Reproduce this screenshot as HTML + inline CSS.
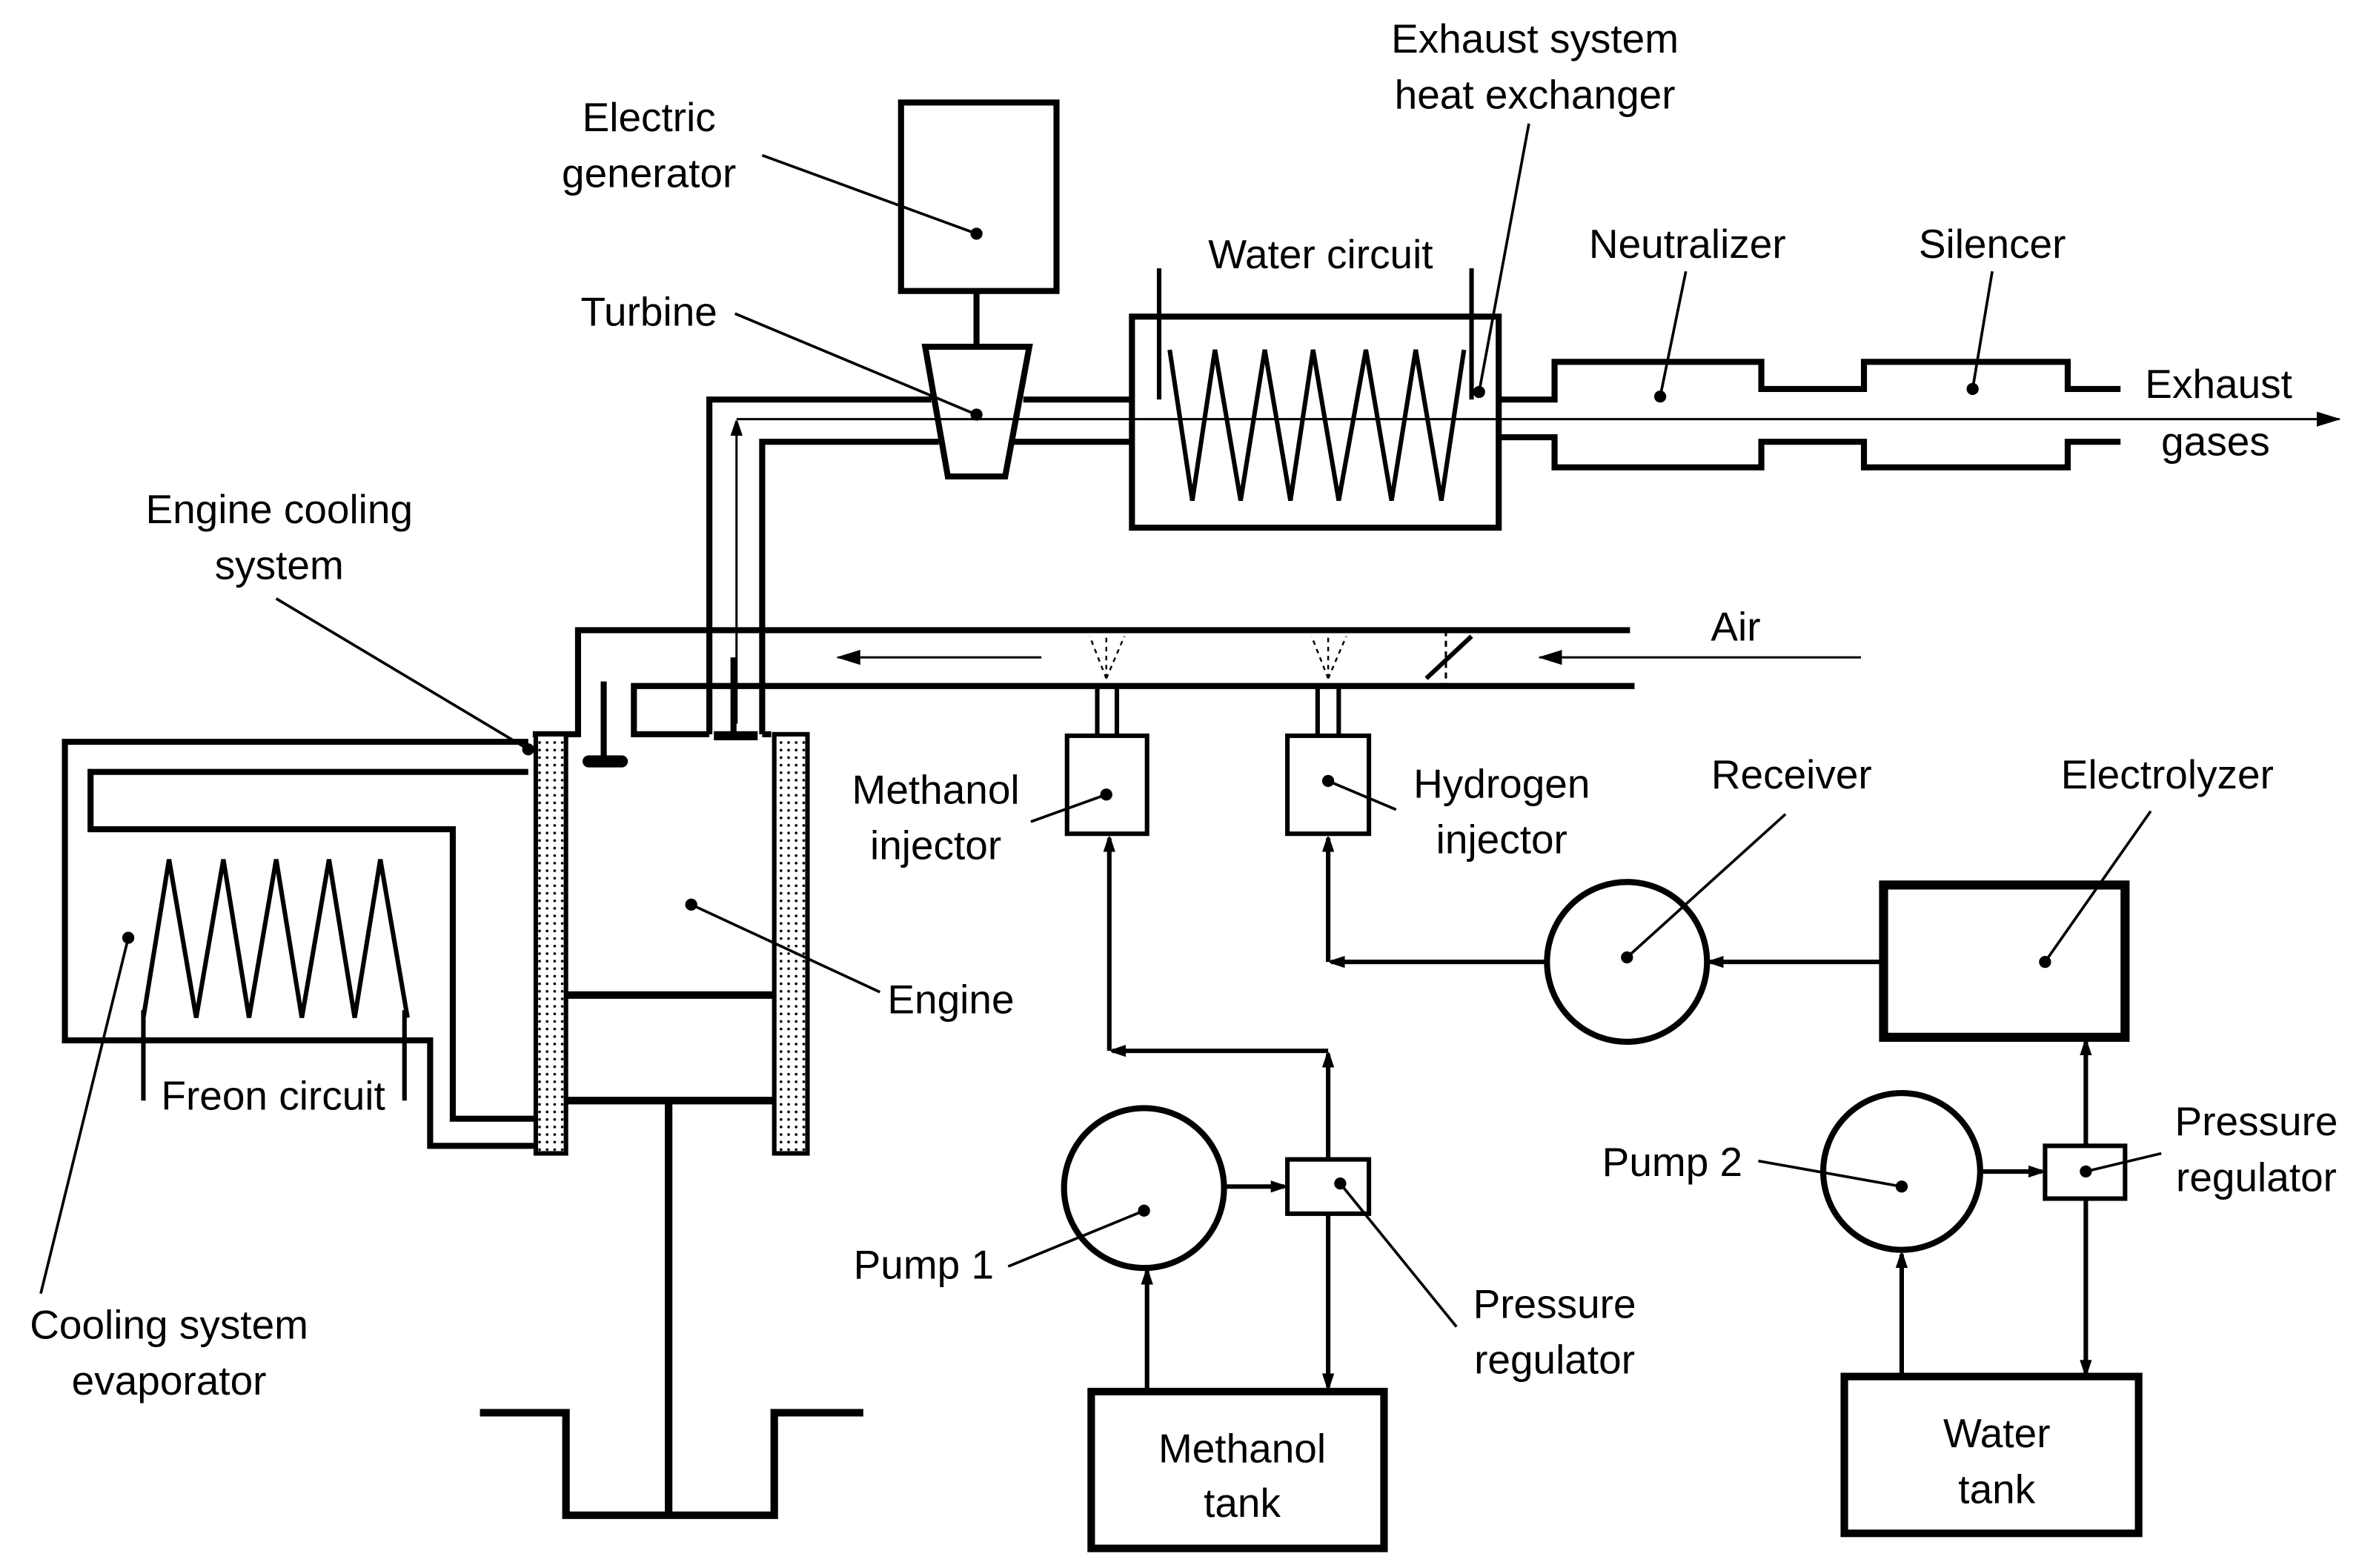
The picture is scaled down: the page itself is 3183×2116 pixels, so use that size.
<!DOCTYPE html>
<html><head><meta charset="utf-8"><style>
html,body{margin:0;padding:0;background:#fff;}
svg{display:block;}
text{font-family:"Liberation Sans",Arial,sans-serif;font-size:27px;fill:#000;text-anchor:middle;}
</style></head><body>
<svg width="3183" height="2116" viewBox="0 0 1563 1040" preserveAspectRatio="none" xmlns="http://www.w3.org/2000/svg">
<defs>
<marker id="ah" markerWidth="10" markerHeight="8" refX="9" refY="4" orient="auto" markerUnits="userSpaceOnUse"><path d="M0,0 L12,4 L0,8 Z" fill="#000"/></marker>
<marker id="ah2" markerWidth="16" markerHeight="10" refX="15" refY="5" orient="auto" markerUnits="userSpaceOnUse"><path d="M0,0 L16,5 L0,10 Z" fill="#000"/></marker>
<pattern id="dots" width="5" height="5" patternUnits="userSpaceOnUse"><rect width="5" height="5" fill="#fff"/><circle cx="2.5" cy="2.5" r="0.9" fill="#000"/></pattern>
</defs>
<g fill="none" stroke="#000" stroke-width="3">
<!-- generator -->
<rect x="597" y="68" width="103" height="125" stroke-width="4"/>
<line x1="647" y1="193" x2="647" y2="230" stroke-width="4"/>
<path d="M613,230 L682,230 L666,316 L628,316 Z" stroke-width="4"/>
<!-- exhaust pipe -->
<path d="M470,487 L470,265 L617,265" stroke-width="4"/>
<path d="M505,487 L505,293 L622,293" stroke-width="4"/>
<path d="M678,265 L750,265 M671,293 L750,293" stroke-width="4"/>
<line x1="488" y1="480" x2="488" y2="280" stroke-width="1.5" marker-end="url(#ah)"/>
<line x1="488" y1="278" x2="1550" y2="278" stroke-width="1.5" marker-end="url(#ah2)"/>
<!-- heat exchanger -->
<rect x="750" y="210" width="243" height="140" stroke-width="4"/>
<path d="M768,178 L768,265 M975,178 L975,265"/>
<path d="M775,232 L790,332 L805,232 L822,332 L838,232 L855,332 L870,232 L887,332 L905,232 L922,332 L938,232 L955,332 L970,232"/>
<path d="M993,265 L1030,265 L1030,240 L1167,240 L1167,258 L1235,258 L1235,240 L1370,240 L1370,258 L1405,258" stroke-width="4"/>
<path d="M993,290 L1030,290 L1030,310 L1167,310 L1167,293 L1235,293 L1235,310 L1370,310 L1370,293 L1405,293" stroke-width="4"/>
<!-- manifold -->
<path d="M353,487 L383,487 L383,418 L1080,418" stroke-width="4"/>
<path d="M470,487 L420,487 L420,455 L1083,455" stroke-width="4"/>
<path d="M505,487 L511,487" stroke-width="4"/>
<path d="M400,452 L400,504" stroke-width="4"/>
<path d="M390,505 L412,505" stroke-width="8" stroke-linecap="round"/>
<path d="M486,436 L486,487" stroke-width="4"/>
<path d="M473,488 L502,488" stroke-width="6"/>
<line x1="690" y1="436" x2="555" y2="436" stroke-width="1.5" marker-end="url(#ah2)"/>
<line x1="1233" y1="436" x2="1020" y2="436" stroke-width="1.5" marker-end="url(#ah2)"/>
<line x1="945" y1="450" x2="975" y2="422" stroke-width="3"/>
<line x1="958" y1="418" x2="958" y2="455" stroke-width="1.5" stroke-dasharray="4,3"/>
<path d="M733,450 L722,422 M733,450 L733,420 M733,450 L745,422 M880,450 L869,422 M880,450 L880,420 M880,450 L892,422" stroke-width="1.2" stroke-dasharray="3,3"/>
<!-- engine -->
<rect x="355" y="487" width="20" height="278" fill="url(#dots)"/>
<rect x="513" y="487" width="22" height="278" fill="url(#dots)"/>
<line x1="375" y1="660" x2="513" y2="660" stroke-width="5"/>
<line x1="375" y1="730" x2="513" y2="730" stroke-width="5"/>
<line x1="443" y1="730" x2="443" y2="1005" stroke-width="5"/>
<path d="M318,937 L375,937 L375,1005 L513,1005 L513,937 L572,937" stroke-width="5"/>
<!-- evaporator -->
<path d="M350,492 L43,492 L43,690 L285,690 L285,760 L355,760" stroke-width="4"/>
<path d="M350,512 L60,512 L60,550 L300,550 L300,742 L355,742" stroke-width="4"/>
<path d="M95,675 L112,570 L130,675 L148,570 L165,675 L183,570 L200,675 L218,570 L235,675 L252,570 L270,675"/>
<path d="M95,670 L95,730 M268,670 L268,730"/>
<!-- injectors -->
<path d="M727,455 L727,488 M740,455 L740,488 M873,455 L873,488 M887,455 L887,488"/>
<rect x="707" y="488" width="53" height="65"/>
<rect x="853" y="488" width="54" height="65"/>
<!-- methanol line -->
<line x1="735" y1="697" x2="735" y2="556" marker-end="url(#ah)"/>
<line x1="880" y1="697" x2="737" y2="697" marker-end="url(#ah)"/>
<line x1="880" y1="769" x2="880" y2="699" marker-end="url(#ah)"/>
<rect x="853" y="769" width="54" height="36"/>
<circle cx="758" cy="788" r="53" stroke-width="4"/>
<line x1="811" y1="787" x2="851" y2="787" marker-end="url(#ah)"/>
<line x1="880" y1="805" x2="880" y2="920" marker-end="url(#ah)"/>
<rect x="723" y="923" width="194" height="104" stroke-width="5"/>
<line x1="760" y1="921" x2="760" y2="843" marker-end="url(#ah)"/>
<!-- hydrogen line -->
<line x1="880" y1="638" x2="880" y2="556" marker-end="url(#ah)"/>
<line x1="1025" y1="638" x2="882" y2="638" marker-end="url(#ah)"/>
<circle cx="1078" cy="638" r="53" stroke-width="4"/>
<line x1="1248" y1="638" x2="1133" y2="638" marker-end="url(#ah)"/>
<rect x="1248" y="587" width="160" height="101" stroke-width="6"/>
<circle cx="1260" cy="777" r="52" stroke-width="4"/>
<line x1="1312" y1="777" x2="1353" y2="777" marker-end="url(#ah)"/>
<rect x="1355" y="760" width="53" height="35"/>
<line x1="1382" y1="760" x2="1382" y2="691" marker-end="url(#ah)"/>
<line x1="1382" y1="795" x2="1382" y2="911" marker-end="url(#ah)"/>
<rect x="1222" y="913" width="195" height="104" stroke-width="5"/>
<line x1="1260" y1="912" x2="1260" y2="832" marker-end="url(#ah)"/>
<!-- leaders -->
<g stroke-width="1.8">
<line x1="505" y1="103" x2="647" y2="155"/>
<line x1="487" y1="208" x2="647" y2="275"/>
<line x1="1013" y1="82" x2="980" y2="260"/>
<line x1="1117" y1="180" x2="1100" y2="263"/>
<line x1="1320" y1="180" x2="1307" y2="258"/>
<line x1="183" y1="397" x2="350" y2="497"/>
<line x1="683" y1="545" x2="733" y2="527"/>
<line x1="925" y1="537" x2="880" y2="518"/>
<line x1="1183" y1="540" x2="1078" y2="635"/>
<line x1="1425" y1="538" x2="1355" y2="638"/>
<line x1="583" y1="658" x2="458" y2="600"/>
<line x1="27" y1="858" x2="85" y2="622"/>
<line x1="668" y1="840" x2="758" y2="803"/>
<line x1="965" y1="880" x2="888" y2="785"/>
<line x1="1165" y1="770" x2="1260" y2="787"/>
<line x1="1432" y1="765" x2="1382" y2="777"/>
</g>
</g>
<g fill="#000">
<circle cx="647" cy="155" r="4"/><circle cx="647" cy="275" r="4"/><circle cx="980" cy="260" r="4"/>
<circle cx="1100" cy="263" r="4"/><circle cx="1307" cy="258" r="4"/><circle cx="350" cy="497" r="4"/>
<circle cx="733" cy="527" r="4"/><circle cx="880" cy="518" r="4"/><circle cx="1078" cy="635" r="4"/>
<circle cx="1355" cy="638" r="4"/><circle cx="458" cy="600" r="4"/><circle cx="85" cy="622" r="4"/>
<circle cx="758" cy="803" r="4"/><circle cx="888" cy="785" r="4"/><circle cx="1260" cy="787" r="4"/>
<circle cx="1382" cy="777" r="4"/>
</g>
<text x="430" y="87">Electric</text><text x="430" y="124">generator</text>
<text x="430" y="216">Turbine</text>
<text x="1017" y="35">Exhaust system</text><text x="1017" y="72">heat exchanger</text>
<text x="875" y="178">Water circuit</text>
<text x="1118" y="171">Neutralizer</text>
<text x="1320" y="171">Silencer</text>
<text x="1470" y="264">Exhaust</text><text x="1468" y="302">gases</text>
<text x="185" y="347">Engine cooling</text><text x="185" y="384">system</text>
<text x="1150" y="425">Air</text>
<text x="620" y="533">Methanol</text><text x="620" y="570">injector</text>
<text x="995" y="529">Hydrogen</text><text x="995" y="566">injector</text>
<text x="1187" y="523">Receiver</text>
<text x="1436" y="523">Electrolyzer</text>
<text x="630" y="672">Engine</text>
<text x="181" y="736">Freon circuit</text>
<text x="112" y="888">Cooling system</text><text x="112" y="925">evaporator</text>
<text x="612" y="848">Pump 1</text>
<text x="1030" y="874">Pressure</text><text x="1030" y="911">regulator</text>
<text x="1108" y="780">Pump 2</text>
<text x="1495" y="753">Pressure</text><text x="1495" y="790">regulator</text>
<text x="823" y="970">Methanol</text><text x="823" y="1006">tank</text>
<text x="1323" y="960">Water</text><text x="1323" y="997">tank</text>
</svg>
</body></html>
